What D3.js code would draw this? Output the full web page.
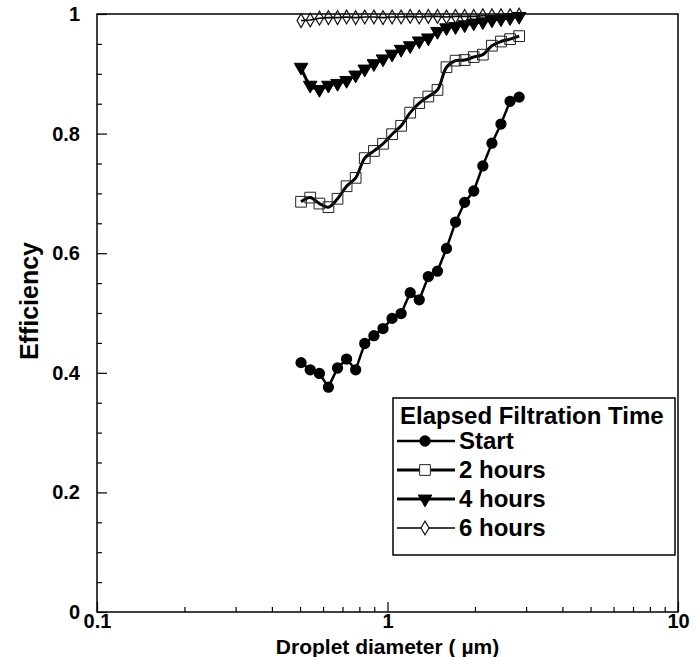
<!DOCTYPE html>
<html>
<head>
<meta charset="utf-8">
<script src="https://cdn.jsdelivr.net/npm/d3@7"></script>
<style>
  body { margin: 0; background: #fff; }
  svg { display: block; font-family: 'Liberation Sans', Arial, sans-serif; font-weight: bold; }
</style>
</head>
<body>
<svg width="698" height="657"></svg>
<script>
(function() {
  'use strict';

  // droplet diameter (um), one entry per sizer channel
  const diameters = [0.504, 0.542, 0.583, 0.626, 0.673, 0.723, 0.777, 0.835,
    0.898, 0.965, 1.037, 1.114, 1.197, 1.286, 1.382, 1.486, 1.596, 1.715,
    1.843, 1.981, 2.129, 2.288, 2.458, 2.642, 2.839];

  const startValues = [0.417, 0.405, 0.399, 0.376, 0.408, 0.423, 0.405, 0.449,
    0.462, 0.474, 0.491, 0.499, 0.534, 0.522, 0.561, 0.570, 0.608, 0.652,
    0.685, 0.704, 0.746, 0.784, 0.816, 0.854, 0.861];
  const twoHourValues = [0.686, 0.693, 0.683, 0.677, 0.691, 0.712, 0.726, 0.759,
    0.771, 0.783, 0.799, 0.813, 0.835, 0.851, 0.862, 0.873, 0.911, 0.922,
    0.923, 0.928, 0.932, 0.947, 0.954, 0.958, 0.963];
  const fourHourValues = [0.911, 0.881, 0.874, 0.881, 0.884, 0.889, 0.898, 0.908,
    0.917, 0.925, 0.933, 0.941, 0.947, 0.955, 0.960, 0.971, 0.977, 0.979,
    0.982, 0.985, 0.987, 0.990, 0.992, 0.994, 0.996];
  const sixHourValues = [0.989, 0.990, 0.993, 0.994, 0.994, 0.995, 0.994, 0.995,
    0.995, 0.994, 0.995, 0.995, 0.996, 0.995, 0.996, 0.996, 0.995, 0.996,
    0.996, 0.996, 0.997, 0.997, 0.997, 0.997, 0.998];

  const seriesNames = ['Start', '2 hours', '4 hours', '6 hours'];
  const xTicks = [0.1, 1, 10];
  const xTickLabels = ['0.1', '1', '10'];
  const yTicks = [0, 0.2, 0.4, 0.6, 0.8, 1];
  const yTickLabels = ['0', '0.2', '0.4', '0.6', '0.8', '1'];

  const margin = {
    top: 14,
    right: 20,
    bottom: 45,
    left: 97,
  };

  const svg = d3.select('svg');
  const width = +svg.attr('width') - margin.left - margin.right;
  const height = +svg.attr('height') - margin.top - margin.bottom;

  const g = svg.append('g')
      .attr('transform', 'translate(' + margin.left + ',' + margin.top + ')');

  const x = d3.scaleLog()
      .domain([0.1, 10])
      .range([0, width]);

  const y = d3.scaleLinear()
      .domain([0, 1])
      .range([height, 0]);

  // marker shapes, drawn around (0,0)
  const markers = [
    {shape: d3.symbolCircle, size: 100, fill: '#000', stroke: 'none', rot: 0, sw: 0},
    {shape: d3.symbolSquare, size: 115, fill: 'none', stroke: '#222', rot: 0, sw: 1},
    {shape: d3.symbolTriangle, size: 80, fill: '#000', stroke: '#000', rot: 180, sw: 1},
    {shape: d3.symbolDiamond, size: 55, fill: 'none', stroke: '#111', rot: 0, sw: 1.2},
  ];
  const lineWidths = [2.5, 3, 3, 1.6];
  const curves = [d3.curveLinear, d3.curveCatmullRom, d3.curveCatmullRom, d3.curveLinear];

  const series = [startValues, twoHourValues, fourHourValues, sixHourValues].map((vals, i) => {
    return {
      name: seriesNames[i],
      points: diameters.map((d, j) => ({d: d, v: vals[j]})),
    };
  });

  // frame
  g.append('rect')
      .attr('width', width)
      .attr('height', height)
      .attr('fill', 'none')
      .attr('stroke', '#000')
      .attr('stroke-width', 1.5);

  // axes, ticks pointing inward
  const yMinor = d3.range(0, 1.001, 0.05).filter((v) => Math.abs(v * 5 - Math.round(v * 5)) > 1e-6);
  g.append('g')
      .call(d3.axisLeft(y).tickValues(yMinor).tickSize(-5).tickFormat(''))
      .call((a) => a.select('.domain').remove());
  g.append('g')
      .call(d3.axisLeft(y)
          .tickValues(yTicks)
          .tickSize(-10)
          .tickPadding(17)
          .tickFormat((d, i) => yTickLabels[i]))
      .call((a) => a.select('.domain').remove())
      .selectAll('text')
      .attr('font-size', 20)
      .attr('font-weight', 'bold')
      .attr('font-family', 'Liberation Sans, Arial, sans-serif')
      .attr('fill', '#000');

  const xMinor = [];
  [0.1, 1].forEach((dec) => {
    for (let k = 2; k <= 9; k++) xMinor.push(dec * k);
  });
  g.append('g')
      .attr('transform', 'translate(0,' + height + ')')
      .call(d3.axisBottom(x).tickValues(xMinor).tickSize(-5).tickFormat(''))
      .call((a) => a.select('.domain').remove());
  g.append('g')
      .attr('transform', 'translate(0,' + height + ')')
      .call(d3.axisBottom(x)
          .tickValues(xTicks)
          .tickSize(-10)
          .tickPadding(2)
          .tickFormat((d, i) => xTickLabels[i]))
      .call((a) => a.select('.domain').remove())
      .selectAll('text')
      .attr('font-size', 20)
      .attr('font-weight', 'bold')
      .attr('font-family', 'Liberation Sans, Arial, sans-serif')
      .attr('fill', '#000');

  g.selectAll('.tick line').attr('stroke', '#000').attr('stroke-width', 1.2);

  // axis titles
  svg.append('text')
      .attr('transform', 'translate(38,' + (margin.top + y(0.52)) + ') rotate(-90)')
      .attr('text-anchor', 'middle')
      .attr('font-size', 25)
      .text('Efficiency');

  svg.append('text')
      .attr('x', margin.left + x(1))
      .attr('y', 654)
      .attr('text-anchor', 'middle')
      .attr('font-size', 21)
      .text('Droplet diameter ( \u00b5m)');

  // series
  const plot = g.append('g');
  series.forEach((s, i) => {
    const line = d3.line()
        .curve(curves[i])
        .x((p) => x(p.d))
        .y((p) => y(p.v));

    plot.append('path')
        .datum(s.points)
        .attr('fill', 'none')
        .attr('stroke', '#000')
        .attr('stroke-width', lineWidths[i])
        .attr('d', line);

    const m = markers[i];
    plot.selectAll('.m' + i)
        .data(s.points)
        .enter()
        .append('path')
        .attr('class', 'm' + i)
        .attr('transform', (p) => 'translate(' + x(p.d) + ',' + y(p.v) + ') rotate(' + m.rot + ')')
        .attr('d', d3.symbol().type(m.shape).size(m.size))
        .attr('fill', m.fill)
        .attr('stroke', m.stroke)
        .attr('stroke-width', m.sw);
  });

  // legend
  const legend = svg.append('g')
      .attr('transform', 'translate(393,398)');

  legend.append('rect')
      .attr('width', 282)
      .attr('height', 157)
      .attr('fill', '#fff')
      .attr('stroke', '#000')
      .attr('stroke-width', 1.5);

  legend.append('text')
      .attr('x', 7)
      .attr('y', 26)
      .attr('font-size', 24)
      .text('Elapsed Filtration Time');

  series.forEach((s, i) => {
    const row = legend.append('g')
        .attr('transform', 'translate(0,' + (43 + i * 29) + ')');
    row.append('line')
        .attr('x1', 4)
        .attr('x2', 62)
        .attr('stroke', '#000')
        .attr('stroke-width', lineWidths[i]);
    const m = markers[i];
    row.append('path')
        .attr('transform', 'translate(32,0) rotate(' + m.rot + ')')
        .attr('d', d3.symbol().type(m.shape).size(m.size))
        .attr('fill', m.fill === 'none' ? '#fff' : m.fill)
        .attr('stroke', m.stroke)
        .attr('stroke-width', m.sw);
    row.append('text')
        .attr('x', 66)
        .attr('y', 8)
        .attr('font-size', 24)
        .text(s.name);
  });
})();
</script>
</body>
</html>
